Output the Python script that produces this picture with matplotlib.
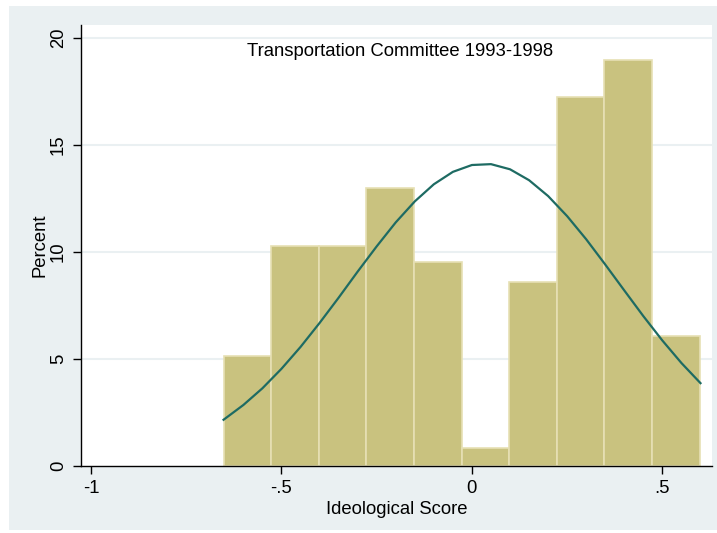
import numpy as np
import matplotlib.pyplot as plt
from matplotlib.patches import Rectangle

plt.rcParams['font.family'] = ['Liberation Sans', 'DejaVu Sans']

# histogram bins (left edges) and percent heights
bin_left = [-0.652, -0.527, -0.402, -0.277, -0.152, -0.027, 0.098, 0.223, 0.348, 0.473]
bin_width = 0.125
percent = [5.14, 10.28, 10.28, 13.0, 9.52, 0.82, 8.58, 17.24, 18.98, 6.06]

# normal density overlay
curve_x = [-0.652, -0.6, -0.55, -0.5, -0.45, -0.4, -0.35, -0.3, -0.25, -0.2, -0.15,
           -0.1, -0.05, 0.0, 0.05, 0.1, 0.15, 0.2, 0.25, 0.3, 0.35, 0.4, 0.45,
           0.5, 0.55, 0.6]
curve_y = [2.16, 2.85, 3.63, 4.54, 5.56, 6.68, 7.86, 9.08, 10.26, 11.38, 12.36,
           13.16, 13.74, 14.06, 14.10, 13.86, 13.35, 12.61, 11.67, 10.59, 9.41,
           8.20, 7.00, 5.86, 4.81, 3.87]

xticks = [-1, -0.5, 0, 0.5]
xtick_labels = ['-1', '-.5', '0', '.5']
yticks = [0, 5, 10, 15, 20]

bg = '#EAF0F2'
bar_fc = '#C9C27F'
bar_ec = '#E6E0B4'
line_c = '#1E6B63'
fs = 13.3

fig = plt.figure(figsize=(7.17, 5.33), dpi=100)
fig.patch.set_facecolor('white')
fig.patches.append(Rectangle((9 / 717, 3 / 533), 708 / 717, 524 / 533,
                             transform=fig.transFigure, facecolor=bg,
                             edgecolor='none', zorder=-10))

ax = fig.add_axes([80.7 / 717, 67 / 533, 631.6 / 717, 441 / 533])
ax.set_facecolor('white')

for y in yticks[1:]:
    ax.axhline(y, color=bg, lw=1.5, zorder=0)

ax.bar(bin_left, percent, width=bin_width, align='edge', color=bar_fc,
       edgecolor=bar_ec, linewidth=1.2, zorder=2)
ax.plot(curve_x, curve_y, color=line_c, lw=1.6, zorder=3)

ax.set_xlim(-1.027, 0.631)
ax.set_ylim(0, 20.6)

ax.set_xticks(xticks)
ax.set_xticklabels(xtick_labels)
ax.set_yticks(yticks)
ax.set_yticklabels([str(v) for v in yticks], rotation=90, va='center')

ax.tick_params(direction='out', length=6, width=1, labelsize=fs, pad=4)
for s in ['top', 'right']:
    ax.spines[s].set_visible(False)
for s in ['left', 'bottom']:
    ax.spines[s].set_color('black')
    ax.spines[s].set_linewidth(1)

ax.set_xlabel('Ideological Score', fontsize=fs, labelpad=3)
ax.set_ylabel('Percent', fontsize=fs, labelpad=1)
ax.text(0.505, 0.939, 'Transportation Committee 1993-1998', transform=ax.transAxes,
        ha='center', va='center', fontsize=fs)

fig.savefig('out.png', dpi=100, facecolor=fig.get_facecolor())
